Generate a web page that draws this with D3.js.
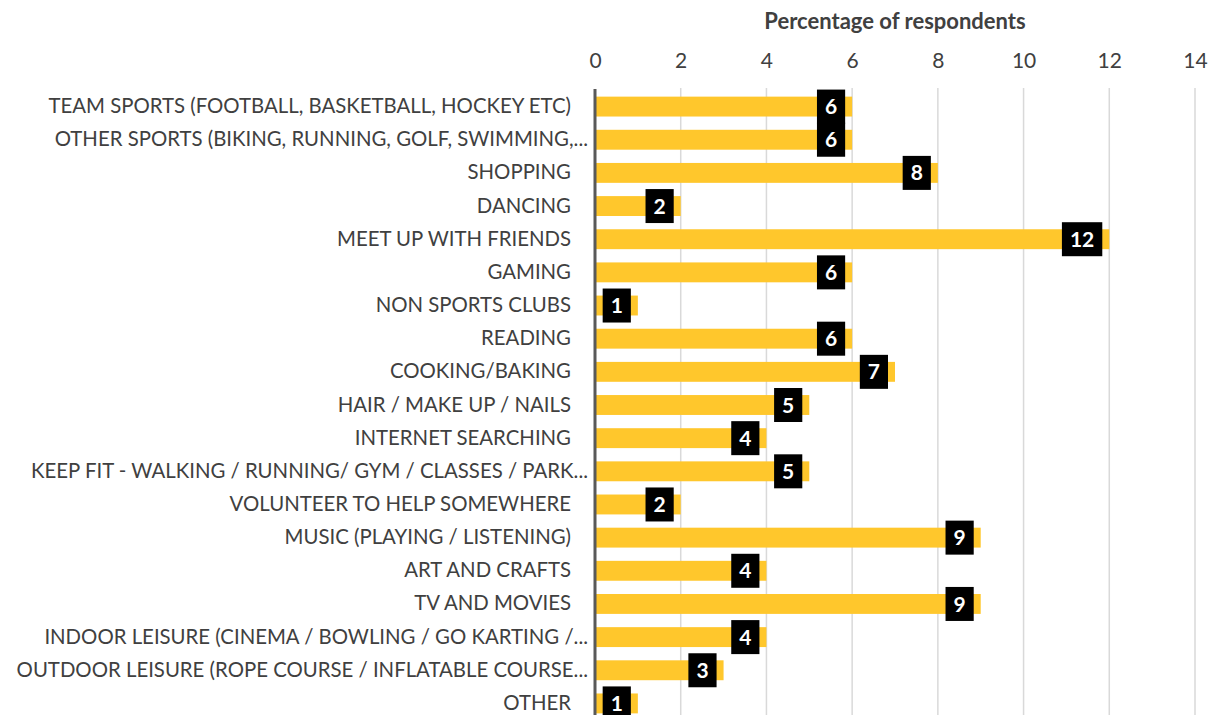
<!DOCTYPE html>
<html>
<head>
<meta charset="utf-8">
<script src="https://cdn.jsdelivr.net/npm/d3@7"></script>
<style>
  body { margin: 0; background: #fff; }
  svg { display: block; font-family: Lato, "Open Sans", sans-serif; }
</style>
</head>
<body>
<svg width="1210" height="715"></svg>
<script>
// categories, top to bottom
var categories = [
    "TEAM SPORTS (FOOTBALL, BASKETBALL, HOCKEY ETC)",
    "OTHER SPORTS (BIKING, RUNNING, GOLF, SWIMMING,...",
    "SHOPPING",
    "DANCING",
    "MEET UP WITH FRIENDS",
    "GAMING",
    "NON SPORTS CLUBS",
    "READING",
    "COOKING/BAKING",
    "HAIR / MAKE UP / NAILS",
    "INTERNET SEARCHING",
    "KEEP FIT - WALKING / RUNNING/ GYM / CLASSES / PARK...",
    "VOLUNTEER TO HELP SOMEWHERE",
    "MUSIC (PLAYING / LISTENING)",
    "ART AND CRAFTS",
    "TV AND MOVIES",
    "INDOOR LEISURE (CINEMA / BOWLING / GO KARTING /...",
    "OUTDOOR LEISURE (ROPE COURSE / INFLATABLE COURSE...",
    "OTHER"
];
var values = [6, 6, 8, 2, 12, 6, 1, 6, 7, 5, 4, 5, 2, 9, 4, 9, 4, 3, 1];
var xTicks = [0, 2, 4, 6, 8, 10, 12, 14];
var axisTitle = "Percentage of respondents";

var svg = d3.select("svg");

var x = d3.scaleLinear().domain([0, 14]).range([595, 1195]);
var y = d3.scaleBand().domain(categories).range([90, 720]).paddingInner(0.4).paddingOuter(0.2);

function truncated(s) { return s.slice(-3) === "..."; }

// gridlines
svg.append("g").selectAll("line")
    .data(xTicks.slice(1))
    .enter().append("line")
    .attr("x1", function (d) { return x(d); })
    .attr("x2", function (d) { return x(d); })
    .attr("y1", 88)
    .attr("y2", 715)
    .attr("stroke", "#d9d9d9")
    .attr("stroke-width", 1.5);

// top axis labels
var xAxis = d3.axisTop(x).tickValues(xTicks).tickSize(0).tickPadding(0);
var gx = svg.append("g").attr("transform", "translate(0,68)").call(xAxis);
gx.select(".domain").remove();
gx.selectAll("text")
    .attr("fill", "#404040")
    .style("font-size", "21px")
    .style("font-family", "Lato, 'Open Sans', sans-serif");

svg.append("text")
    .attr("x", 895)
    .attr("y", 29)
    .attr("text-anchor", "middle")
    .attr("fill", "#404040")
    .style("font-size", "22px")
    .style("font-weight", "bold")
    .text(axisTitle);

// bars
svg.append("g").selectAll("rect")
    .data(values)
    .enter().append("rect")
    .attr("x", x(0))
    .attr("y", function (d, i) { return y(categories[i]); })
    .attr("width", function (d) { return x(d) - x(0); })
    .attr("height", y.bandwidth())
    .attr("fill", "#FFC72C");

// category axis
var yAxis = d3.axisLeft(y).tickSize(0).tickPadding(0);
var gy = svg.append("g").attr("transform", "translate(588,0)").call(yAxis);
gy.select(".domain").remove();
gy.selectAll("text")
    .attr("fill", "#404040")
    .attr("dx", function (d) { return truncated(d) ? 0 : -17; })
    .style("font-family", "Lato, 'Open Sans', sans-serif")
    .style("font-size", "19px");

// fit label font size so the longest full label spans as in the original
var ref = gy.selectAll("text").filter(function (d) { return d === categories[0]; }).node();
var w = ref.getComputedTextLength();
var fs = 19 * 523 / w;
gy.selectAll("text").style("font-size", fs + "px");

// y axis line
svg.append("line")
    .attr("x1", x(0)).attr("x2", x(0))
    .attr("y1", 89).attr("y2", 715)
    .attr("stroke", "#595959")
    .attr("stroke-width", 3);

// data labels
var lab = svg.append("g").selectAll("g")
    .data(values)
    .enter().append("g")
    .attr("transform", function (d, i) {
        return "translate(" + (x(d) - 7) + "," + (y(categories[i]) + y.bandwidth() / 2) + ")";
    });

lab.append("text")
    .attr("text-anchor", "middle")
    .attr("dy", "0.36em")
    .attr("fill", "#fff")
    .style("font-size", "21px")
    .style("font-weight", "bold")
    .text(function (d) { return d; });

lab.each(function () {
    var t = d3.select(this).select("text");
    var tw = t.node().getComputedTextLength();
    var bw = tw + 16;
    t.attr("x", -bw / 2);
    d3.select(this).insert("rect", "text")
        .attr("x", -bw)
        .attr("y", -17)
        .attr("width", bw)
        .attr("height", 34)
        .attr("fill", "#000");
});
</script>
</body>
</html>
